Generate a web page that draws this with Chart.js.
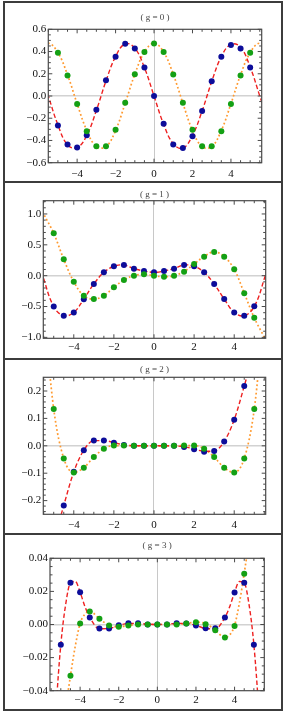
<!DOCTYPE html>
<html>
<head>
<meta charset="utf-8">
<script src="https://cdn.jsdelivr.net/npm/chart.js@4.4.1/dist/chart.umd.min.js"></script>
<style>
  body { margin: 0; background: #fff; }
  #page { position: relative; width: 289px; height: 720px; overflow: hidden; }
  .box { position: absolute; left: 3px; top: 1px; width: 280px; height: 710px; border: 2px solid #3c3c3c; box-sizing: border-box; }
  .sep { position: absolute; left: 3px; width: 280px; height: 2px; background: #3c3c3c; }
  canvas { position: absolute; left: 5px; }
</style>
</head>
<body>
<div id="page">
  <div class="box"></div>
  <div class="sep" style="top:181px"></div>
  <div class="sep" style="top:358px"></div>
  <div class="sep" style="top:533px"></div>
  <canvas id="c0" width="276" height="178" style="top:3px"></canvas>
  <canvas id="c1" width="276" height="175" style="top:183px"></canvas>
  <canvas id="c2" width="276" height="173" style="top:360px"></canvas>
  <canvas id="c3" width="276" height="174" style="top:535px"></canvas>
</div>
<script>
// sample positions of the dots and of the curves
const dotX = [-5, -4.5, -4, -3.5, -3, -2.5, -2, -1.5, -1, -0.5, 0, 0.5, 1, 1.5, 2, 2.5, 3, 3.5, 4, 4.5, 5];
const lineX = [-6, -5.5, -5, -4.5, -4, -3.5, -3, -2.5, -2, -1.5, -1, -0.5, 0, 0.5, 1, 1.5, 2, 2.5, 3, 3.5, 4, 4.5, 5, 5.5, 6];
const lineX3 = [-5.5, -5.25, -5, -4.75, -4.5, -4.25, -4, -3.75, -3.5, -3, -2.5, -2, -1.5, -1, -0.5, 0, 0.5, 1, 1.5, 2, 2.5, 3, 3.5, 3.75, 4, 4.25, 4.5, 4.75, 5, 5.25, 5.5];

const titles = ['( g = 0 )', '( g = 1 )', '( g = 2 )', '( g = 3 )'];

const xTickVals = [-4, -2, 0, 2, 4];
const xTickLabels = ['\u22124', '\u22122', '0', '2', '4'];

// g = 0
const blue0 = [-0.265, -0.437, -0.464, -0.352, -0.123, 0.142, 0.352, 0.47, 0.428, 0.256, 0, -0.25, -0.437, -0.467, -0.361, -0.136, 0.133, 0.352, 0.458, 0.428, 0.256];
const green0 = [0.389, 0.184, -0.072, -0.316, -0.452, -0.452, -0.304, -0.06, 0.196, 0.395, 0.473, 0.395, 0.193, -0.06, -0.304, -0.452, -0.452, -0.316, -0.072, 0.184, 0.389];
const red0 = [0.26, 0, -0.26, -0.44, -0.465, -0.355, -0.13, 0.135, 0.355, 0.47, 0.43, 0.255, 0, -0.255, -0.43, -0.47, -0.355, -0.135, 0.13, 0.355, 0.465, 0.44, 0.26, 0, -0.26];
const orange0 = [0.4, 0.475, 0.39, 0.19, -0.07, -0.31, -0.455, -0.455, -0.31, -0.065, 0.195, 0.395, 0.475, 0.395, 0.195, -0.065, -0.31, -0.455, -0.455, -0.31, -0.07, 0.19, 0.39, 0.475, 0.4];
const yTicks0 = [-0.6, -0.4, -0.2, 0, 0.2, 0.4, 0.6];
const yLabels0 = ['\u22120.6', '\u22120.4', '\u22120.2', '0.0', '0.2', '0.4', '0.6'];

// g = 1
const blue1 = [-0.5, -0.649, -0.595, -0.384, -0.135, 0.054, 0.151, 0.173, 0.114, 0.076, 0.054, 0.076, 0.114, 0.173, 0.151, 0.054, -0.135, -0.378, -0.595, -0.649, -0.497];
const green1 = [0.686, 0.265, -0.097, -0.324, -0.378, -0.324, -0.189, -0.07, 0, 0.022, 0, -0.016, 0, 0.065, 0.189, 0.308, 0.384, 0.308, 0.103, -0.286, -0.681];
const red1 = [0.5, -0.05, -0.5, -0.65, -0.595, -0.38, -0.135, 0.054, 0.151, 0.173, 0.114, 0.076, 0.054, 0.076, 0.114, 0.173, 0.151, 0.054, -0.135, -0.38, -0.595, -0.65, -0.5, -0.05, 0.5];
const orange1 = [1.35, 1.0, 0.686, 0.265, -0.097, -0.324, -0.38, -0.324, -0.189, -0.07, 0, 0.02, 0, -0.018, 0, 0.068, 0.189, 0.31, 0.384, 0.31, 0.1, -0.284, -0.683, -1.0, -1.35];
const yTicks1 = [-1, -0.5, 0, 0.5, 1];
const yLabels1 = ['\u22121.0', '\u22120.5', '0.0', '0.5', '1.0'];

// g = 2
const blue2 = [null, -0.218, -0.095, -0.016, 0.019, 0.019, 0.011, 0.003, 0, 0, 0, 0, 0, -0.004, -0.013, -0.022, -0.019, 0.016, 0.095, 0.218, null];
const green2 = [0.134, -0.046, -0.097, -0.08, -0.041, -0.011, 0.001, 0.001, 0, 0, 0, 0, 0, 0.001, 0.001, -0.011, -0.041, -0.08, -0.097, -0.046, 0.134];
const red2 = [-0.7, -0.5, -0.35, -0.218, -0.095, -0.016, 0.019, 0.019, 0.012, 0.003, 0.0005, 0, 0, 0, -0.0005, -0.003, -0.012, -0.02, -0.019, 0.016, 0.095, 0.218, 0.35, 0.5, 0.7];
const orange2 = [0.9, 0.5, 0.134, -0.046, -0.097, -0.08, -0.041, -0.011, 0.001, 0.001, 0, 0, 0, 0, 0, 0.001, 0.001, -0.011, -0.041, -0.08, -0.097, -0.046, 0.134, 0.5, 0.9];
const yTicks2 = [-0.2, -0.1, 0, 0.1, 0.2];
const yLabels2 = ['\u22120.2', '\u22120.1', '0.0', '0.1', '0.2'];

// g = 3
const blue3 = [-0.0122, 0.0252, 0.0195, 0.0043, -0.0024, -0.0024, -0.0005, 0.0008, 0.0008, 0, 0, 0, 0.0008, 0.0006, -0.0006, -0.0022, -0.0022, 0.0043, 0.0193, 0.0252, -0.0122];
const green3 = [null, -0.031, 0.0006, 0.0079, 0.0035, -0.0006, -0.0014, -0.0006, 0, 0, 0, 0, 0, 0.0006, 0.0014, 0.0002, -0.0035, -0.0079, -0.0009, 0.0307, null];
const red3 = [-0.11, -0.052, -0.0122, 0.012, 0.0252, 0.026, 0.0195, 0.0108, 0.0043, -0.0026, -0.0024, -0.0005, 0.0006, 0.0007, 0.0002, 0, 0.0002, 0.0007, 0.0006, -0.0005, -0.0024, -0.0026, 0.0043, 0.0108, 0.0195, 0.026, 0.0252, 0.012, -0.0122, -0.052, -0.11];
const orange3 = [-0.26, -0.14, -0.085, -0.052, -0.031, -0.013, 0.0006, 0.0063, 0.0079, 0.0035, -0.0006, -0.0014, -0.0006, 0, 0, 0, 0, 0, 0.0006, 0.0014, 0.0006, -0.0035, -0.0079, -0.0063, -0.0006, 0.013, 0.031, 0.052, 0.085, 0.14, 0.26];
const yTicks3 = [-0.04, -0.02, 0, 0.02, 0.04];
const yLabels3 = ['\u22120.04', '\u22120.02', '0.00', '0.02', '0.04'];

const SERIF = '"Liberation Serif", "Times New Roman", serif';
const BLUE = '#0d0d9a';
const GREEN = '#14a014';
const RED = '#ee2020';
const ORANGE = '#ff9a30';

// page geometry of each panel (canvas top/height, plot frame, title line)
const frames = [
  { top: 3,   h: 178, L: 48.3, R: 261.7, T: 29.3,  B: 162.7, ty: 17.3, xpad: 5 },
  { top: 183, h: 175, L: 43.3, R: 265.7, T: 200.7, B: 338.3, ty: 195,  xpad: 2 },
  { top: 360, h: 173, L: 43.3, R: 265.7, T: 377.3, B: 514.3, ty: 370,  xpad: 4 },
  { top: 535, h: 174, L: 50,   R: 264.3, T: 558.3, B: 690.7, ty: 546,  xpad: 3 }
];

const panels = [
  { blue: blue0, green: green0, red: red0, orange: orange0, lx: lineX, smooth: false,
    x: [-5.5, 5.6], y: [-0.6, 0.6], yTicks: yTicks0, yLabels: yLabels0, yMinor: 0.05 },
  { blue: blue1, green: green1, red: red1, orange: orange1, lx: lineX, smooth: false,
    x: [-5.52, 5.57], y: [-1.015, 1.215], yTicks: yTicks1, yLabels: yLabels1, yMinor: 0.1 },
  { blue: blue2, green: green2, red: red2, orange: orange2, lx: lineX, smooth: true,
    x: [-5.52, 5.57], y: [-0.25, 0.25], yTicks: yTicks2, yLabels: yLabels2, yMinor: 0.02 },
  { blue: blue3, green: green3, red: red3, orange: orange3, lx: lineX3, smooth: true,
    x: [-5.56, 5.54], y: [-0.04, 0.04], yTicks: yTicks3, yLabels: yLabels3, yMinor: 0.005 }
];

function minorValues(min, max, step, majors) {
  const out = [];
  const k0 = Math.ceil(min / step - 1e-9), k1 = Math.floor(max / step + 1e-9);
  for (let k = k0; k <= k1; k++) {
    const v = k * step;
    if (!majors.some(m => Math.abs(m - v) < step / 10)) out.push(v);
  }
  return out;
}

// Mathematica-like frame: ticks on all four sides, pointing inwards, plus the title
const framePlugin = {
  id: 'frame',
  afterDatasetsDraw(chart, args, opts) {
    const { ctx, chartArea: a } = chart;
    const xs = chart.scales.x, ys = chart.scales.y;
    ctx.save();
    ctx.strokeStyle = '#4a4a4a';
    ctx.lineWidth = 1;
    ctx.beginPath();
    const xt = (v, len) => {
      const p = xs.getPixelForValue(v);
      ctx.moveTo(p, a.bottom); ctx.lineTo(p, a.bottom - len);
      ctx.moveTo(p, a.top); ctx.lineTo(p, a.top + len);
    };
    const yt = (v, len) => {
      const p = ys.getPixelForValue(v);
      ctx.moveTo(a.left, p); ctx.lineTo(a.left + len, p);
      ctx.moveTo(a.right, p); ctx.lineTo(a.right - len, p);
    };
    xTickVals.forEach(v => xt(v, 4));
    minorValues(xs.min, xs.max, 0.5, xTickVals).forEach(v => xt(v, 2.5));
    opts.yTicks.forEach(v => yt(v, 4));
    minorValues(ys.min, ys.max, opts.yMinor, opts.yTicks).forEach(v => yt(v, 2.5));
    ctx.stroke();
    ctx.lineWidth = 1.2;
    ctx.strokeRect(a.left, a.top, a.right - a.left, a.bottom - a.top);

    ctx.fillStyle = '#444';
    ctx.font = '9px ' + SERIF;
    ctx.textAlign = 'center';
    ctx.textBaseline = 'middle';
    ctx.fillText(opts.title, (a.left + a.right) / 2, opts.titleY);
    ctx.restore();
  }
};

function points(xs, ys) {
  const pts = [];
  xs.forEach((x, i) => {
    if (ys[i] !== null) pts.push({ x: x, y: ys[i] });
  });
  return pts;
}

function lineSet(xs, ys, color, width, dash, smooth) {
  const set = {
    data: points(xs, ys),
    showLine: true,
    borderColor: color,
    borderWidth: width,
    borderDash: dash,
    pointRadius: 0,
    pointHoverRadius: 0
  };
  if (smooth) {
    set.cubicInterpolationMode = 'monotone';
  } else {
    set.tension = 0.4;
  }
  return set;
}

function dotSet(xs, ys, color) {
  return {
    data: points(xs, ys),
    showLine: false,
    pointRadius: 3,
    pointHoverRadius: 3,
    pointBorderWidth: 0,
    backgroundColor: color,
    borderColor: color
  };
}

panels.forEach((p, i) => {
  const f = frames[i];
  const ctx = document.getElementById('c' + i).getContext('2d');
  const tickFont = { family: SERIF, size: 11 };

  new Chart(ctx, {
    type: 'scatter',
    data: {
      datasets: [
        dotSet(dotX, p.green, GREEN),
        dotSet(dotX, p.blue, BLUE),
        lineSet(p.lx, p.red, RED, 1.4, [4.5, 2.5], p.smooth),
        lineSet(p.lx, p.orange, ORANGE, 1.7, [1.8, 2.4], p.smooth)
      ]
    },
    options: {
      responsive: false,
      animation: false,
      events: [],
      layout: {
        padding: { top: f.T - f.top, right: 281 - f.R, bottom: 0, left: 0 }
      },
      plugins: {
        legend: { display: false },
        tooltip: { enabled: false },
        frame: { title: titles[i], titleY: f.ty - f.top, yTicks: p.yTicks, yMinor: p.yMinor }
      },
      scales: {
        x: {
          type: 'linear',
          min: p.x[0],
          max: p.x[1],
          afterBuildTicks: s => { s.ticks = xTickVals.map(v => ({ value: v })); },
          afterFit: s => { s.height = f.top + f.h - f.B; },
          ticks: {
            callback: v => xTickLabels[xTickVals.indexOf(v)],
            font: tickFont,
            color: '#111',
            padding: f.xpad,
            maxRotation: 0,
            autoSkip: false
          },
          grid: {
            drawTicks: false,
            color: c => (c.tick && c.tick.value === 0) ? '#c8c8c8' : 'rgba(0,0,0,0)',
            lineWidth: 1
          },
          border: { display: false }
        },
        y: {
          type: 'linear',
          min: p.y[0],
          max: p.y[1],
          afterBuildTicks: s => { s.ticks = p.yTicks.map(v => ({ value: v })); },
          afterFit: s => { s.width = f.L - 5; },
          ticks: {
            callback: v => p.yLabels[p.yTicks.indexOf(v)],
            font: tickFont,
            color: '#111',
            padding: 2,
            autoSkip: false
          },
          grid: {
            drawTicks: false,
            color: c => (c.tick && c.tick.value === 0) ? '#d2d2d2' : 'rgba(0,0,0,0)',
            lineWidth: 1.5
          },
          border: { display: false }
        }
      }
    },
    plugins: [framePlugin]
  });
});
</script>
</body>
</html>
